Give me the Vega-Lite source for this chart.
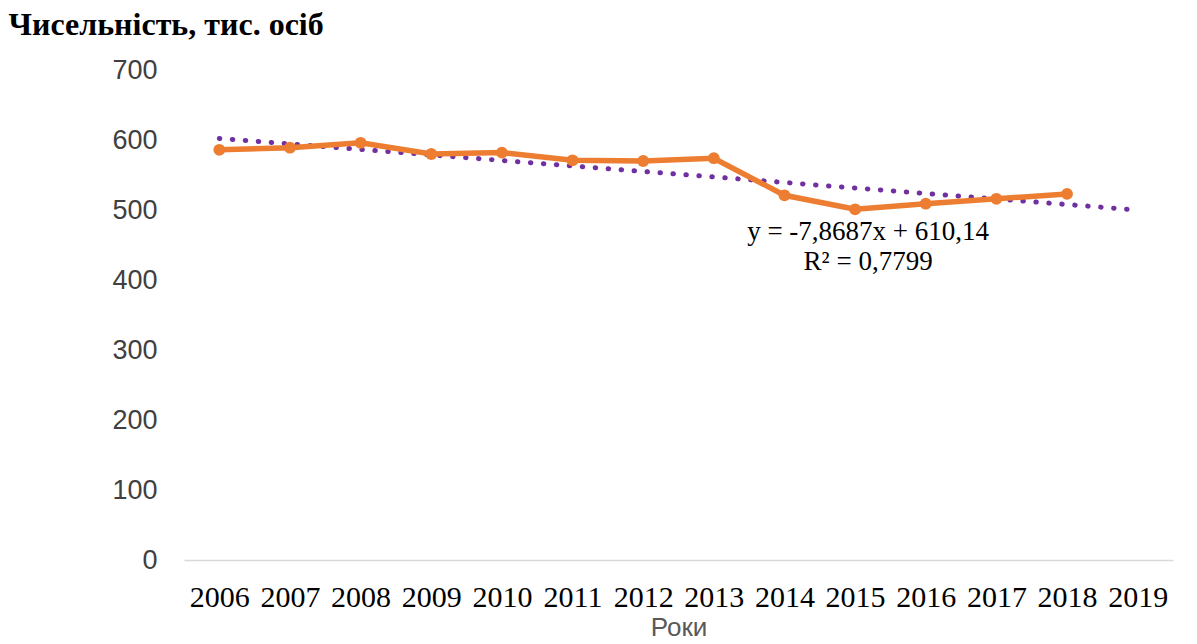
{
  "$schema": "https://vega.github.io/schema/vega-lite/v6.json",
  "autosize": "none",
  "padding": {"left": 184, "top": 70, "right": 24, "bottom": 84},
  "width": 989,
  "height": 490,
  "background": "white",
  "config": {"view": {"stroke": null}},
  "datasets": {
    "pop": [
      {"year": "2006", "value": 586},
      {"year": "2007", "value": 589},
      {"year": "2008", "value": 596},
      {"year": "2009", "value": 580},
      {"year": "2010", "value": 582},
      {"year": "2011", "value": 571},
      {"year": "2012", "value": 570},
      {"year": "2013", "value": 574},
      {"year": "2014", "value": 521},
      {"year": "2015", "value": 501},
      {"year": "2016", "value": 509},
      {"year": "2017", "value": 516},
      {"year": "2018", "value": 523}
    ],
    "trend": [
      {"year": "2006", "value": 602.27},
      {"year": "2019", "value": 499.98}
    ],
    "labels": [
      {"year": "2015", "value": 468, "text": "y = -7,8687x  + 610,14"},
      {"year": "2015", "value": 426, "text": "R² = 0,7799"}
    ]
  },
  "layer": [
    {
      "data": {"name": "trend"},
      "mark": {"type": "line", "color": "#7030A0", "strokeWidth": 5, "strokeDash": [0.5, 12.5], "strokeCap": "round"},
      "encoding": {
        "x": {
          "field": "year", "type": "ordinal",
          "scale": {"type": "point", "padding": 0.5, "domain": ["2006","2007","2008","2009","2010","2011","2012","2013","2014","2015","2016","2017","2018","2019"]},
          "axis": {
            "title": "Роки", "titleFont": "Liberation Sans", "titleFontSize": 26, "titleFontWeight": "normal", "titleColor": "#595959", "titlePadding": 2,
            "labelFont": "Liberation Serif", "labelFontSize": 30, "labelColor": "#000000", "labelAngle": 0, "labelPadding": 22,
            "ticks": false, "domainColor": "#D9D9D9", "domainWidth": 1.5, "grid": false
          }
        },
        "y": {
          "field": "value", "type": "quantitative",
          "scale": {"domain": [0, 700], "nice": false},
          "axis": {
            "values": [0,100,200,300,400,500,600,700],
            "title": "Чисельність, тис. осіб", "titleFont": "Liberation Serif", "titleFontSize": 32, "titleFontWeight": "bold", "titleColor": "#000000",
            "titleAngle": 0, "titleAlign": "left", "titleBaseline": "alphabetic", "titleX": -176, "titleY": -36,
            "labelFont": "Liberation Sans", "labelFontSize": 27, "labelColor": "#404040", "labelPadding": 27,
            "ticks": false, "domain": false, "grid": false
          }
        }
      }
    },
    {
      "data": {"name": "pop"},
      "mark": {"type": "line", "color": "#ED7D31", "strokeWidth": 5.5, "point": {"filled": true, "color": "#ED7D31", "size": 140}},
      "encoding": {
        "x": {"field": "year", "type": "ordinal"},
        "y": {"field": "value", "type": "quantitative"}
      }
    },
    {
      "data": {"name": "labels"},
      "mark": {"type": "text", "font": "Liberation Serif", "fontSize": 27, "color": "#000000", "align": "center", "baseline": "middle", "dx": 13},
      "encoding": {
        "x": {"field": "year", "type": "ordinal"},
        "y": {"field": "value", "type": "quantitative"},
        "text": {"field": "text"}
      }
    }
  ]
}
